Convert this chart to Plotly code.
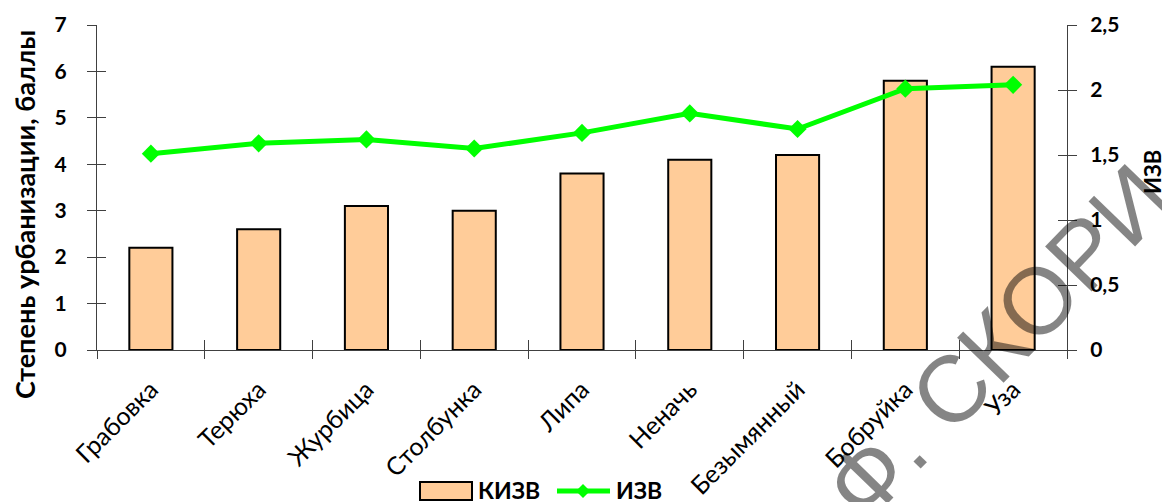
import plotly.graph_objects as go

categories = ["Грабовка", "Терюха", "Журбица", "Столбунка", "Липа", "Неначь", "Безымянный", "Бобруйка", "Уза"]
kizv = [2.2, 2.6, 3.1, 3.0, 3.8, 4.1, 4.2, 5.8, 6.1]
izv = [1.51, 1.59, 1.62, 1.55, 1.67, 1.82, 1.70, 2.01, 2.04]
left_ticks = [0, 1, 2, 3, 4, 5, 6, 7]
right_ticks = [0, 0.5, 1, 1.5, 2, 2.5]
right_tick_text = ["0", "0,5", "1", "1,5", "2", "2,5"]

FONT = "Lato"
AX = "#404040"
BAR_COLOR = "#FFCC99"
LINE_COLOR = "#00FF00"

W, H = 1162, 502
ML, MR, MT, MB = 97, 95, 25, 152
PW, PH = W - ML - MR, H - MT - MB


def px(x):
    return (x - ML) / PW


def py(y):
    return (H - MB - y) / PH


fig = go.Figure()
fig.add_trace(go.Bar(x=categories, y=kizv, name="КИЗВ", width=0.4,
                     marker=dict(color=BAR_COLOR, line=dict(color="black", width=2)),
                     yaxis="y", showlegend=False))
fig.add_trace(go.Scatter(x=categories, y=izv, name="ИЗВ", mode="lines+markers",
                         line=dict(color=LINE_COLOR, width=5),
                         marker=dict(symbol="diamond", size=14, color=LINE_COLOR),
                         yaxis="y2", showlegend=False))
# invisible traces to draw the inner halves of crossing tick marks
fig.add_trace(go.Scatter(x=categories, y=kizv, mode="markers", marker=dict(opacity=0),
                         showlegend=False, hoverinfo="skip", xaxis="x2", yaxis="y3"))
fig.add_trace(go.Scatter(x=categories, y=izv, mode="markers", marker=dict(opacity=0),
                         showlegend=False, hoverinfo="skip", xaxis="x", yaxis="y4"))

fig.update_layout(
    width=W, height=H,
    margin=dict(l=ML, r=MR, t=MT, b=MB),
    paper_bgcolor="white", plot_bgcolor="white",
    font=dict(family=FONT, color="black"),
    showlegend=False,
    xaxis=dict(type="category", range=[-0.5, 8.5], showline=True, linecolor=AX, linewidth=1,
               ticks="outside", tickson="boundaries", ticklen=8, tickcolor=AX,
               tickangle=-45, tickfont=dict(size=25, family=FONT), showgrid=False,
               automargin=False, ticklabelstandoff=14),
    xaxis2=dict(type="category", range=[-0.5, 8.5], overlaying="x", anchor="y3", side="bottom",
                ticks="inside", tickson="boundaries", ticklen=10, tickcolor=AX,
                showticklabels=False, showline=False, showgrid=False, automargin=False),
    yaxis=dict(range=[0, 7], tickvals=left_ticks, showline=True, linecolor=AX, linewidth=1,
               ticks="outside", ticklen=9, tickcolor=AX, showgrid=False, zeroline=False,
               tickfont=dict(size=21, family=FONT, weight="bold"), ticklabelstandoff=16,
               automargin=False),
    yaxis2=dict(range=[0, 2.5], tickvals=right_ticks, ticktext=right_tick_text, overlaying="y",
                side="right", showline=True, linecolor=AX, linewidth=1,
                ticks="outside", ticklen=9, tickcolor=AX, showgrid=False, zeroline=False,
                tickfont=dict(size=21, family=FONT, weight="bold"), ticklabelstandoff=9,
                automargin=False),
    yaxis3=dict(range=[0, 7], tickvals=left_ticks, overlaying="y", side="left", anchor="x2",
                ticks="inside", ticklen=9, tickcolor=AX, showticklabels=False,
                showline=False, showgrid=False, zeroline=False, automargin=False),
    yaxis4=dict(range=[0, 2.5], tickvals=right_ticks, overlaying="y", side="right",
                ticks="inside", ticklen=9, tickcolor=AX, showticklabels=False,
                showline=False, showgrid=False, zeroline=False, automargin=False),
)

# axis titles
fig.add_annotation(text="Степень урбанизации, баллы", xref="paper", yref="paper",
                   x=px(25), y=py(215), xanchor="center", yanchor="middle",
                   showarrow=False, textangle=-90,
                   font=dict(size=27, family=FONT, weight="bold"))
fig.add_annotation(text="ИЗВ", xref="paper", yref="paper",
                   x=px(1152), y=py(172), xanchor="center", yanchor="middle",
                   showarrow=False, textangle=-90,
                   font=dict(size=22, family=FONT, weight="bold"))

# legend (drawn manually for Excel-like wide swatches)
LY = 490
fig.add_shape(type="rect", xref="paper", yref="paper",
              x0=px(420), x1=px(472), y0=py(482), y1=py(500),
              fillcolor=BAR_COLOR, line=dict(color="black", width=2), layer="above")
fig.add_annotation(text="КИЗВ", xref="paper", yref="paper", x=px(476), y=py(LY),
                   xanchor="left", yanchor="middle", showarrow=False,
                   font=dict(size=23, family=FONT, weight="bold"))
fig.add_shape(type="line", xref="paper", yref="paper",
              x0=px(557), x1=px(610), y0=py(491), y1=py(491),
              line=dict(color=LINE_COLOR, width=5), layer="above")
fig.add_shape(type="path", xref="paper", yref="paper",
              path=f"M {px(583)},{py(484)} L {px(590)},{py(491)} L {px(583)},{py(498)} L {px(576)},{py(491)} Z",
              fillcolor=LINE_COLOR, line=dict(color=LINE_COLOR, width=0), layer="above")
fig.add_annotation(text="ИЗВ", xref="paper", yref="paper", x=px(614), y=py(LY),
                   xanchor="left", yanchor="middle", showarrow=False,
                   font=dict(size=23, family=FONT, weight="bold"))

# watermark
fig.add_annotation(text="Ф. СКОРИ", xref="paper", yref="paper", x=px(997), y=py(342),
                   xanchor="center", yanchor="middle",
                   showarrow=False, textangle=-46,
                   font=dict(size=94, family="Liberation Sans", color="rgba(0,0,0,0.48)"))

fig.write_html("out.html")
